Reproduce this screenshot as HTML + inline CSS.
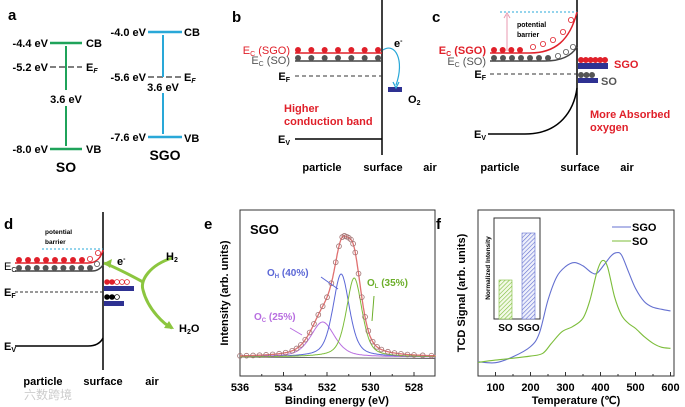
<!DOCTYPE html>
<html><head><meta charset="utf-8"><style>
html,body{margin:0;padding:0;background:#fff;}
svg{display:block;font-family:"Liberation Sans",Arial,sans-serif;}
</style></head><body>
<svg id="s" width="685" height="407" viewBox="0 0 685 407">
<!-- Panel a -->
<g font-size="11" font-weight="bold">
<text x="8" y="20" font-size="15">a</text>
<line x1="50" y1="43" x2="82" y2="43" stroke="#1fa35a" stroke-width="2.5"/>
<line x1="50" y1="67" x2="82" y2="67" stroke="#555" stroke-width="1.5" stroke-dasharray="6,3"/>
<line x1="50" y1="149" x2="82" y2="149" stroke="#1fa35a" stroke-width="2.5"/>
<line x1="66" y1="46" x2="66" y2="90" stroke="#1fa35a" stroke-width="2"/>
<line x1="66" y1="106" x2="66" y2="146" stroke="#1fa35a" stroke-width="2"/>
<text x="48" y="47" text-anchor="end">-4.4 eV</text><text x="86" y="47">CB</text>
<text x="48" y="71" text-anchor="end">-5.2 eV</text><text x="86" y="71">E<tspan font-size="7" dy="2" font-style="italic">F</tspan></text>
<text x="48" y="153" text-anchor="end">-8.0 eV</text><text x="86" y="153">VB</text>
<text x="66" y="103" text-anchor="middle">3.6 eV</text>
<text x="66" y="172" text-anchor="middle" font-size="14">SO</text>
<line x1="148" y1="32" x2="182" y2="32" stroke="#29a8d8" stroke-width="2.5"/>
<line x1="148" y1="77" x2="182" y2="77" stroke="#555" stroke-width="1.5" stroke-dasharray="6,3"/>
<line x1="148" y1="137" x2="182" y2="137" stroke="#29a8d8" stroke-width="2.5"/>
<line x1="163" y1="35" x2="163" y2="77" stroke="#29a8d8" stroke-width="2"/>
<line x1="163" y1="93" x2="163" y2="134" stroke="#29a8d8" stroke-width="2"/>
<text x="146" y="36" text-anchor="end">-4.0 eV</text><text x="184" y="36">CB</text>
<text x="146" y="81" text-anchor="end">-5.6 eV</text><text x="184" y="81">E<tspan font-size="7" dy="2" font-style="italic">F</tspan></text>
<text x="146" y="141" text-anchor="end">-7.6 eV</text><text x="184" y="142">VB</text>
<text x="163" y="91" text-anchor="middle">3.6 eV</text>
<text x="165" y="160" text-anchor="middle" font-size="14">SGO</text>
</g>
<!-- Panel b -->
<g font-size="11" font-weight="bold">
<text x="232" y="22" font-size="15">b</text>
<line x1="382" y1="0" x2="382" y2="155" stroke="#000" stroke-width="1.5"/>
<line x1="295" y1="53" x2="382" y2="53" stroke="#e0202a" stroke-width="1.5"/>
<line x1="295" y1="61" x2="382" y2="61" stroke="#444" stroke-width="1.5"/>
<g id="bdots"></g>
<line x1="295" y1="76" x2="382" y2="76" stroke="#333" stroke-dasharray="4,3"/>
<line x1="295" y1="139" x2="382" y2="139" stroke="#000" stroke-width="1.5"/>
<text x="290" y="54" text-anchor="end" fill="#e0202a" font-weight="normal">E<tspan font-size="7" dy="2">C</tspan><tspan dy="-2"> (SGO)</tspan></text>
<text x="290" y="64" text-anchor="end" fill="#555" font-weight="normal">E<tspan font-size="7" dy="2">C</tspan><tspan dy="-2"> (SO)</tspan></text>
<text x="290" y="80" text-anchor="end">E<tspan font-size="7" dy="2">F</tspan></text>
<text x="290" y="143" text-anchor="end">E<tspan font-size="7" dy="2">V</tspan></text>
<text x="284" y="112" fill="#e0202a">Higher</text><text x="284" y="125" fill="#e0202a">conduction band</text>
<rect x="388" y="87" width="14" height="5" fill="#2e3192"/>
<text x="408" y="103">O<tspan font-size="7" dy="2">2</tspan></text>
<text x="394" y="47">e<tspan font-size="7" dy="-4">-</tspan></text>
<path d="M383,50 C395,42 405,60 396,85" fill="none" stroke="#29a8d8" stroke-width="1.2"/>
<path d="M393,82 L396,88 L399,82" fill="none" stroke="#29a8d8" stroke-width="1.2"/>
<text x="322" y="171" text-anchor="middle">particle</text>
<text x="383" y="171" text-anchor="middle">surface</text>
<text x="430" y="171" text-anchor="middle">air</text>
</g>
<!-- Panel c -->
<g font-size="11" font-weight="bold">
<text x="432" y="22" font-size="15">c</text>
<line x1="577" y1="0" x2="577" y2="155" stroke="#000" stroke-width="1.5"/>
<line x1="500" y1="12" x2="577" y2="12" stroke="#29a8d8" stroke-dasharray="2,2"/>
<line x1="507" y1="51" x2="507" y2="15" stroke="#e89ab0"/>
<path d="M504,18 L507,13 L510,18" fill="none" stroke="#e89ab0"/>
<text x="517" y="27" font-size="7">potential</text><text x="517" y="37" font-size="7">barrier</text>
<path d="M490,53 L530,53 C555,53 570,40 577,12" fill="none" stroke="#e0202a" stroke-width="1.5"/>
<path d="M490,61 L545,61 C562,61 572,55 577,47" fill="none" stroke="#444" stroke-width="1.5"/>
<g id="cdots"></g>
<line x1="490" y1="74" x2="577" y2="74" stroke="#333" stroke-dasharray="4,3"/>
<path d="M488,134 L525,134 C560,134 574,110 577,88" fill="none" stroke="#000" stroke-width="1.5"/>
<text x="486" y="54" text-anchor="end" fill="#e0202a">E<tspan font-size="7" dy="2">C</tspan><tspan dy="-2"> (SGO)</tspan></text>
<text x="486" y="65" text-anchor="end" fill="#555" font-weight="normal">E<tspan font-size="7" dy="2">C</tspan><tspan dy="-2"> (SO)</tspan></text>
<text x="486" y="78" text-anchor="end">E<tspan font-size="7" dy="2">F</tspan></text>
<text x="486" y="138" text-anchor="end">E<tspan font-size="7" dy="2">V</tspan></text>
<rect x="578" y="63" width="30" height="6" fill="#2e3192"/>
<rect x="578" y="78" width="20" height="5" fill="#2e3192"/>
<text x="614" y="68" fill="#e0202a">SGO</text><text x="601" y="85" fill="#555">SO</text>
<text x="590" y="118" fill="#e0202a">More Absorbed</text><text x="590" y="131" fill="#e0202a">oxygen</text>
<text x="500" y="171" text-anchor="middle">particle</text>
<text x="580" y="171" text-anchor="middle">surface</text>
<text x="627" y="171" text-anchor="middle">air</text>
</g>
<!-- Panel d -->
<g font-size="11" font-weight="bold">
<text x="4" y="229" font-size="15">d</text>
<line x1="103" y1="212" x2="103" y2="370" stroke="#000" stroke-width="1.5"/>
<line x1="42" y1="249" x2="103" y2="249" stroke="#29a8d8" stroke-dasharray="2,2"/>
<text x="45" y="234" font-size="6.5">potential</text><text x="45" y="244" font-size="6.5">barrier</text>
<path d="M15,263 L88,263 C96,263 101,258 103,250" fill="none" stroke="#e0202a" stroke-width="1.5"/>
<path d="M15,271 L92,271 C98,271 101,268 103,265" fill="none" stroke="#444" stroke-width="1.5"/>
<g id="ddots"></g>
<line x1="15" y1="292" x2="103" y2="292" stroke="#333" stroke-dasharray="3,2"/>
<path d="M15,346 L88,346 C97,346 101,342 103,338" fill="none" stroke="#000" stroke-width="1.5"/>
<text x="4" y="270" font-weight="normal">E<tspan font-size="7" dy="2">C</tspan></text>
<text x="4" y="296">E<tspan font-size="7" dy="2">F</tspan></text>
<text x="4" y="350">E<tspan font-size="7" dy="2">V</tspan></text>
<rect x="104" y="286" width="30" height="5" fill="#2e3192"/>
<rect x="104" y="301" width="20" height="5" fill="#2e3192"/>
<path d="M172,258 C150,265 140,280 143,290 C148,310 165,325 172,328" fill="none" stroke="#8cc63f" stroke-width="3"/>
<path d="M143,282 C130,275 115,267 104,263" fill="none" stroke="#8cc63f" stroke-width="3"/>
<path d="M104,263 L112,259 L110,268 Z" fill="#8cc63f"/>
<path d="M174,329 L164,328 L169,321 Z" fill="#8cc63f"/>
<text x="166" y="260">H<tspan font-size="7" dy="2">2</tspan></text>
<text x="179" y="332">H<tspan font-size="7" dy="2">2</tspan><tspan dy="-2">O</tspan></text>
<text x="117" y="265">e<tspan font-size="7" dy="-4">-</tspan></text>
<text x="43" y="385" text-anchor="middle">particle</text>
<text x="103" y="385" text-anchor="middle">surface</text>
<text x="152" y="385" text-anchor="middle">air</text>
<text x="24" y="399" fill="#ccc" font-size="12" font-weight="normal">六数跨境</text>
</g>
<!-- Panel e -->
<g>
<text x="204" y="229" font-size="15" font-weight="bold">e</text>
<rect x="240" y="210" width="195" height="166" fill="none" stroke="#333"/>
<g id="eax"></g><g id="eplot"></g>
<text x="250" y="234" font-size="13" font-weight="bold">SGO</text>
<text x="228" y="293" font-size="11" font-weight="bold" transform="rotate(-90 228 293)" text-anchor="middle">Intensity (arb. units)</text>
<text x="337" y="404" font-size="11" font-weight="bold" text-anchor="middle">Binding energy (eV)</text>
<text x="267" y="276" font-size="10" font-weight="bold" fill="#5b67d6">O<tspan font-size="6" dy="2">H</tspan><tspan dy="-2"> (40%)</tspan></text>
<text x="367" y="286" font-size="10" font-weight="bold" fill="#6cae2a">O<tspan font-size="6" dy="2">L</tspan><tspan dy="-2"> (35%)</tspan></text>
<text x="254" y="320" font-size="10" font-weight="bold" fill="#b86ee0">O<tspan font-size="6" dy="2">C</tspan><tspan dy="-2"> (25%)</tspan></text>
<path d="M338,289 L321,277" stroke="#5b67d6" fill="none"/>
<path d="M372,321 L374,296" stroke="#6cae2a" fill="none"/>
<path d="M302,335 L290,328" stroke="#b86ee0" fill="none"/>
</g>
<!-- Panel f -->
<g>
<text x="436" y="229" font-size="15" font-weight="bold">f</text>
<rect x="478" y="210" width="196" height="166" fill="none" stroke="#333"/>
<g id="fax"></g><g id="fplot"></g>
<text x="465" y="293" font-size="11" font-weight="bold" transform="rotate(-90 465 293)" text-anchor="middle">TCD Signal (arb. units)</text>
<text x="576" y="404" font-size="11" font-weight="bold" text-anchor="middle">Temperature (℃)</text>
<g font-size="11" font-weight="bold">
<line x1="612" y1="227" x2="631" y2="227" stroke="#6470d0"/>
<text x="632" y="231">SGO</text>
<line x1="612" y1="241" x2="631" y2="241" stroke="#7cbd3a"/>
<text x="632" y="245">SO</text>
</g>
<defs>
<pattern id="hg" width="3" height="3" patternUnits="userSpaceOnUse" patternTransform="rotate(45)"><rect width="3" height="3" fill="#f4fae8"/><line x1="0" y1="0" x2="0" y2="3" stroke="#7cbd3a" stroke-width="1.2"/></pattern>
<pattern id="hb" width="3" height="3" patternUnits="userSpaceOnUse" patternTransform="rotate(45)"><rect width="3" height="3" fill="#eef0fb"/><line x1="0" y1="0" x2="0" y2="3" stroke="#6470d0" stroke-width="1.2"/></pattern>
</defs>
<g id="inset">
<rect x="494" y="218" width="46" height="101" fill="#fff" stroke="#333"/>
<text x="490" y="268" font-size="6.5" font-weight="bold" transform="rotate(-90 490 268)" text-anchor="middle">Normalized Intensity</text>
</g>
</g>
</svg>
<script>
// ---- Panel e data (XPS O1s fit components) ----
const xpsComponents = ['OC','OH','OL'];
const xpsCenters = [532.2, 531.35, 530.75];
const xpsHeights = [35, 83, 79];
const xpsFwhm = [1.3, 0.9, 0.85];
const xpsColors = ['#b86ee0','#5b67d6','#7cbd3a'];
const xpsTicks = [536,534,532,530,528];
const xpsMarkerE = [536,535.7,535.4,535.1,534.8,534.5,534.2,533.9,533.6,533.4,533.2,533.0,532.8,532.6,532.4,532.2,532.0,531.8,531.6,531.45,531.3,531.2,531.1,531.0,530.9,530.8,530.7,530.55,530.4,530.25,530.1,529.9,529.7,529.5,529.2,528.9,528.6,528.3,528.0,527.6,527.2];
// ---- Panel f data (H2-TPR) ----
const tprTempSGO = [50,100,150,200,225,250,275,300,325,350,375,390,410,430,445,460,480,500,525,550,575,600];
const tprSGO = [8.6,8.0,11.6,17.7,25.7,45.8,59.8,65.9,68.3,66.3,62.2,61.9,66.9,72.3,74.3,72.9,62.8,52.8,44.8,41.4,40.2,39.2];
const tprTempSO = [50,100,150,200,235,260,290,320,350,370,390,405,420,440,460,480,500,525,550,575,600];
const tprSO = [8.2,9.6,10.7,12.0,13.7,19.7,26.7,29.7,34.8,45.8,62.8,69.5,65.8,47.8,36.7,31.7,28.7,23.7,19.7,17.3,16.7];
const tprTicks = [100,200,300,400,500,600];
const insetCategories = ['SO','SGO'];
const insetValues = [39, 86];

const NS='http://www.w3.org/2000/svg';
function mk(tag, attrs, parent){const e=document.createElementNS(NS,tag);for(const k in attrs)e.setAttribute(k,attrs[k]);parent.appendChild(e);return e;}

function dots(g,x0,x1,y,fill,open,n){for(let i=0;i<n;i++){const x=x0+(x1-x0)*i/(n-1);mk('circle',{cx:x,cy:y,r:2.6,fill:open?'#fff':fill,stroke:fill,'stroke-width':0.8},g);}}
const bd=document.getElementById('bdots');dots(bd,298,378,50,'#e0202a',false,7);dots(bd,298,378,58,'#555',false,7);
const cd=document.getElementById('cdots');dots(cd,494,520,50,'#e0202a',false,4);dots(cd,494,548,58,'#555',false,7);
[[533,47],[543,44],[553,40],[563,32],[571,20]].forEach(p=>mk('circle',{cx:p[0],cy:p[1],r:2.6,fill:'#fff',stroke:'#e0202a','stroke-width':0.8},cd));
[[558,56],[566,52],[573,47]].forEach(p=>mk('circle',{cx:p[0],cy:p[1],r:2.6,fill:'#fff',stroke:'#555','stroke-width':0.8},cd));
dots(cd,581,605,60,'#e0202a',false,6);dots(cd,581,592,75,'#555',false,3);
const dd=document.getElementById('ddots');dots(dd,19,82,260,'#e0202a',false,8);dots(dd,19,90,268,'#555',false,9);
[[90,259],[98,253]].forEach(p=>mk('circle',{cx:p[0],cy:p[1],r:2.6,fill:'#fff',stroke:'#e0202a','stroke-width':0.8},dd));
mk('circle',{cx:97,cy:264,r:2.6,fill:'#fff',stroke:'#555','stroke-width':0.8},dd);
[[107,'#e0202a',0],[112,'#e0202a',0],[117,'#e0202a',1],[122,'#e0202a',1],[127,'#e0202a',1]].forEach(p=>mk('circle',{cx:p[0],cy:282,r:2.4,fill:p[2]?'#fff':p[1],stroke:p[1],'stroke-width':0.8},dd));
[[107,0],[112,0],[117,1]].forEach(p=>mk('circle',{cx:p[0],cy:297,r:2.4,fill:p[1]?'#fff':'#000',stroke:'#000','stroke-width':0.8},dd));

// ---- Panel e ----
const xE=e=>240+(536-e)*21.75;
const yE=v=>357-v;
function pv(e,c,h,w){const g=Math.exp(-4*Math.LN2*Math.pow((e-c)/w,2));const l=1/(1+4*Math.pow((e-c)/w,2));return h*(0.5*g+0.5*l);}
function sum(e){let s=0;for(let i=0;i<xpsCenters.length;i++)s+=pv(e,xpsCenters[i],xpsHeights[i],xpsFwhm[i]);return s;}
const eax=document.getElementById('eax');
xpsTicks.forEach(t=>{mk('line',{x1:xE(t),y1:376,x2:xE(t),y2:372,stroke:'#333'},eax);
 const tx=mk('text',{x:xE(t),y:391,'font-size':11,'font-weight':'bold','text-anchor':'middle'},eax);tx.textContent=t;
 
 });
for(let t=535;t>527;t-=2)mk('line',{x1:xE(t),y1:376,x2:xE(t),y2:374,stroke:'#333'},eax);
const ep=document.getElementById('eplot');
const bl=mk('line',{x1:240,y1:yE(0),x2:435,y2:yE(-1.5),stroke:'#666'},ep);


xpsCenters.forEach((c,i)=>{let d='';for(let e=536;e>=527;e-=0.03){d+=(d?'L':'M')+xE(e).toFixed(1)+','+yE(pv(e,c,xpsHeights[i],xpsFwhm[i])).toFixed(1);}
 const p=mk('path',{d:d,fill:'none',stroke:xpsColors[i],'stroke-width':1},ep);
 
 });
let ds='';for(let e=536;e>=527;e-=0.03){ds+=(ds?'L':'M')+xE(e).toFixed(1)+','+yE(sum(e)).toFixed(1);}
const sp=mk('path',{d:ds,fill:'none',stroke:'#e07070','stroke-width':1.3},ep);


xpsMarkerE.forEach(e=>{const c=mk('circle',{cx:xE(e),cy:yE(sum(e)),r:2.4,fill:'none',stroke:'#a07070','stroke-width':0.8},ep);
 
 });

// ---- Panel f ----
const xF=t=>478+(t-50)*0.35;
const yF=v=>376-v*1.66;
const fax=document.getElementById('fax');
tprTicks.forEach(t=>{mk('line',{x1:xF(t),y1:376,x2:xF(t),y2:372,stroke:'#333'},fax);
 const tx=mk('text',{x:xF(t),y:391,'font-size':11,'font-weight':'bold','text-anchor':'middle'},fax);tx.textContent=t;
 
 });
for(let t=150;t<600;t+=100)mk('line',{x1:xF(t),y1:376,x2:xF(t),y2:374,stroke:'#333'},fax);
function smooth(xs,ys){const P=xs.map((x,i)=>[xF(x),yF(ys[i])]);let d='M'+P[0][0]+','+P[0][1];
 for(let i=0;i<P.length-1;i++){const p0=P[Math.max(0,i-1)],p1=P[i],p2=P[i+1],p3=P[Math.min(P.length-1,i+2)];
 d+='C'+(p1[0]+(p2[0]-p0[0])/6).toFixed(1)+','+(p1[1]+(p2[1]-p0[1])/6).toFixed(1)+' '+(p2[0]-(p3[0]-p1[0])/6).toFixed(1)+','+(p2[1]-(p3[1]-p1[1])/6).toFixed(1)+' '+p2[0].toFixed(1)+','+p2[1].toFixed(1);}return d;}
const fp=document.getElementById('fplot');
const l1=mk('path',{d:smooth(tprTempSGO,tprSGO),fill:'none',stroke:'#6470d0','stroke-width':1.1},fp);


const l2=mk('path',{d:smooth(tprTempSO,tprSO),fill:'none',stroke:'#7cbd3a','stroke-width':1.1},fp);


const ins=document.getElementById('inset');
const insX=[499,522], yI=v=>319-v*1.0;
insetCategories.forEach((c,i)=>{const v=insetValues[i];
 const r=mk('rect',{x:insX[i],y:yI(v),width:13,height:319-yI(v),fill:i?'url(#hb)':'url(#hg)',stroke:i?'#6470d0':'#7cbd3a','stroke-width':0.6},ins);
 
 
 const t=mk('text',{x:insX[i]+6.5,y:331,'font-size':10,'font-weight':'bold','text-anchor':'middle'},ins);t.textContent=c;
 
 });
</script>
</body></html>
